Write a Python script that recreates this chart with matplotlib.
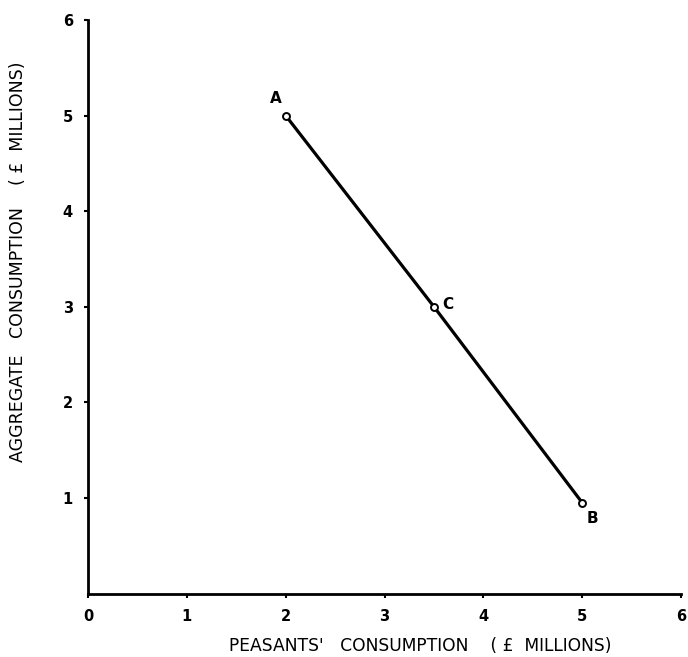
import matplotlib.pyplot as plt

# consumption points (£ millions)
peasants = [2.0, 3.5, 5.0]
aggregate = [5.0, 3.0, 0.95]
point_names = ["A", "C", "B"]
name_offsets = [(-7, 12), (10, 2), (7, -11)]

ticks = [0, 1, 2, 3, 4, 5, 6]

fig = plt.figure(figsize=(6.88, 6.57), dpi=100)
ax = fig.add_axes([0.128, 0.0965, 0.862, 0.873])

ax.plot(peasants, aggregate, color="black", lw=2.3, zorder=2)
ax.plot(peasants, aggregate, "o", ms=5, mfc="white", mec="black", mew=1.4, zorder=3)
for x, y, name, (dx, dy) in zip(peasants, aggregate, point_names, name_offsets):
    ax.annotate(name, (x, y), xytext=(dx, dy), textcoords="offset points",
                ha="center", va="center", fontsize=11, fontweight="bold")

ax.set_xlim(0, 6)
ax.set_ylim(0, 6)
ax.set_xticks(ticks)
ax.set_yticks(ticks[1:])
ax.tick_params(direction="out", length=3, width=1.5, labelsize=10.5, pad=8)
for lbl in ax.get_xticklabels() + ax.get_yticklabels():
    lbl.set_fontweight("bold")

for side in ["top", "right"]:
    ax.spines[side].set_visible(False)
for side in ["left", "bottom"]:
    ax.spines[side].set_linewidth(2)

ax.set_xlabel("PEASANTS'   CONSUMPTION    ( £  MILLIONS)", fontsize=12.3)
ax.set_ylabel("AGGREGATE   CONSUMPTION    ( £  MILLIONS)", fontsize=12.5)
ax.xaxis.set_label_coords(0.56, -0.076)
ax.yaxis.set_label_coords(-0.103, 0.578)

fig.savefig("out.png", dpi=100)
